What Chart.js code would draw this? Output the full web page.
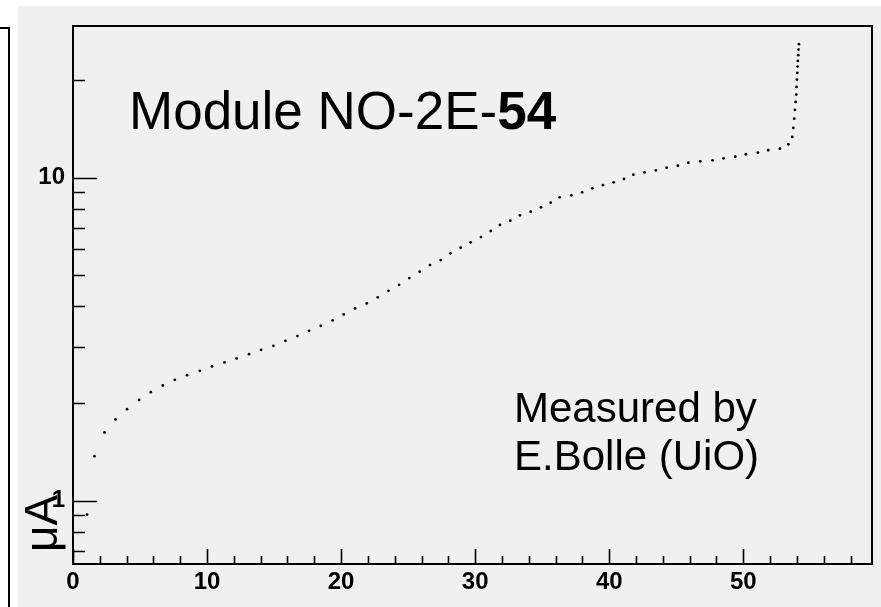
<!DOCTYPE html>
<html><head><meta charset="utf-8">
<script src="https://cdn.jsdelivr.net/npm/chart.js@4"></script>
<style>
html,body{margin:0;padding:0;background:#fff;}
#wrap{position:relative;width:881px;height:607px;overflow:hidden;}
#bg{position:absolute;left:18px;top:6px;right:0;bottom:0;background:#f0f0f0;}
#side{position:absolute;left:-2px;top:27px;width:10px;height:600px;border-top:2px solid #000;border-right:2px solid #000;}
canvas{position:absolute;left:0;top:0;}
</style></head><body>
<div id="wrap"><div id="bg"></div><div id="side"></div><canvas id="c" width="881" height="607"></canvas></div>
<script>
// ---- data ----
const voltage = [1.05,1.60,2.35,3.17,4.03,4.93,5.80,6.70,7.59,8.51,9.46,10.37,11.30,12.21,13.13,14.03,14.95,15.85,16.74,17.61,18.48,19.37,20.19,21.04,21.91,22.73,23.53,24.32,25.09,25.86,26.63,27.43,28.15,28.92,29.66,30.43,31.16,31.85,32.62,33.34,34.14,34.91,35.63,36.30,37.17,37.98,38.74,39.53,40.33,41.10,41.80,42.64,43.48,44.28,45.12,45.90,46.79,47.71,48.53,49.40,50.19,51.09,51.86,52.73,53.36,53.65,53.73,53.80,53.85,53.90,53.95,53.97,54.00,54.03,54.05,54.07,54.10,54.12,54.15];
const current = [0.905,1.372,1.625,1.783,1.919,2.050,2.166,2.272,2.365,2.446,2.522,2.603,2.678,2.755,2.841,2.930,3.015,3.124,3.231,3.356,3.477,3.614,3.772,3.937,4.080,4.259,4.464,4.659,4.888,5.112,5.362,5.557,5.830,6.067,6.307,6.549,6.836,7.135,7.357,7.645,7.845,8.095,8.366,8.694,8.820,9.010,9.271,9.479,9.676,9.908,10.22,10.38,10.54,10.74,10.89,11.13,11.24,11.32,11.48,11.62,11.82,11.96,12.16,12.30,12.69,13.37,14.26,15.23,16.22,17.17,18.09,19.11,20.13,21.12,22.08,23.00,23.95,24.93,25.91];
const xMajorTicks = [0,10,20,30,40,50];
const xMinorTicks = [2,4,6,8,12,14,16,18,22,24,26,28,32,34,36,38,42,44,46,48,52,54,56,58];
const yMajorTicks = [1,10];
const yMinorTicks = [0.7,0.8,0.9,2,3,4,5,6,7,8,9,20];
const xRange = [0, 59.6];
const yRange = [0.636, 29.5];
const titleMain = 'Module NO-2E-';
const titleBold = '54';
const noteLines = ['Measured by', 'E.Bolle (UiO)'];
const yTitle = 'μA';

const FONT = '"Liberation Sans", Arial, sans-serif';

const rootPlugin = {
  id: 'rootStyle',
  afterDatasetsDraw(chart) {
    const ctx = chart.ctx;
    const a = chart.chartArea;
    const xs = chart.scales.x, ys = chart.scales.y;
    ctx.save();
    ctx.strokeStyle = '#000';
    ctx.lineWidth = 1.6;
    ctx.beginPath();
    xMajorTicks.forEach(v => { const p = Math.round(xs.getPixelForValue(v)) + 0.5; ctx.moveTo(p, a.bottom); ctx.lineTo(p, a.bottom - 15); });
    xMinorTicks.forEach(v => { const p = Math.round(xs.getPixelForValue(v)) + 0.5; ctx.moveTo(p, a.bottom); ctx.lineTo(p, a.bottom - 8); });
    yMajorTicks.forEach(v => { const p = Math.round(ys.getPixelForValue(v)) + 0.5; ctx.moveTo(a.left, p); ctx.lineTo(a.left + 24, p); });
    yMinorTicks.forEach(v => { const p = Math.round(ys.getPixelForValue(v)) + 0.5; ctx.moveTo(a.left, p); ctx.lineTo(a.left + 12, p); });
    ctx.stroke();
    ctx.lineWidth = 2;
    ctx.strokeRect(a.left, a.top, a.right - a.left, a.bottom - a.top);

    ctx.fillStyle = '#000';
    ctx.textBaseline = 'alphabetic';
    ctx.textAlign = 'left';
    ctx.font = '53px ' + FONT;
    const tx = a.left + 56, ty = a.top + 103;
    ctx.fillText(titleMain, tx, ty);
    const w = ctx.measureText(titleMain).width;
    ctx.font = 'bold 53px ' + FONT;
    ctx.fillText(titleBold, tx + w, ty);

    ctx.font = '42px ' + FONT;
    noteLines.forEach((s, i) => ctx.fillText(s, a.left + 441, a.top + 396 + i * 48));

    ctx.save();
    ctx.font = '46px ' + FONT;
    ctx.translate(57, a.bottom - 12);
    ctx.rotate(-Math.PI / 2);
    ctx.fillText(yTitle, 0, 0);
    ctx.restore();
    ctx.restore();
  }
};

new Chart(document.getElementById('c'), {
  type: 'scatter',
  data: {
    datasets: [{
      data: voltage.map((v, i) => ({ x: v, y: current[i] })),
      pointRadius: 1.4,
      pointBorderWidth: 0,
      pointBackgroundColor: '#000',
      showLine: false
    }]
  },
  options: {
    responsive: false,
    animation: false,
    devicePixelRatio: 1,
    layout: { padding: { top: 26, right: 9, left: 0, bottom: 0 } },
    plugins: { legend: { display: false }, tooltip: { enabled: false } },
    scales: {
      x: {
        type: 'linear', min: xRange[0], max: xRange[1], bounds: 'data',
        grid: { display: false, drawTicks: false },
        border: { display: false },
        afterBuildTicks: s => { s.ticks = xMajorTicks.map(v => ({ value: v })); s.min = xRange[0]; s.max = xRange[1]; },
        afterFit: s => { s.height = 43; },
        ticks: { padding: 4, color: '#000', font: { family: FONT, size: 24, weight: 'bold' }, maxRotation: 0, autoSkip: false, callback: v => String(v) }
      },
      y: {
        type: 'logarithmic', min: yRange[0], max: yRange[1], bounds: 'data',
        grid: { display: false, drawTicks: false },
        border: { display: false },
        afterBuildTicks: s => { s.ticks = yMajorTicks.map(v => ({ value: v })); s.min = yRange[0]; s.max = yRange[1]; },
        afterFit: s => { s.width = 73; },
        ticks: { padding: 8, color: '#000', font: { family: FONT, size: 24, weight: 'bold' }, autoSkip: false, callback: v => String(v) }
      }
    }
  },
  plugins: [rootPlugin]
});
</script>
</body></html>
